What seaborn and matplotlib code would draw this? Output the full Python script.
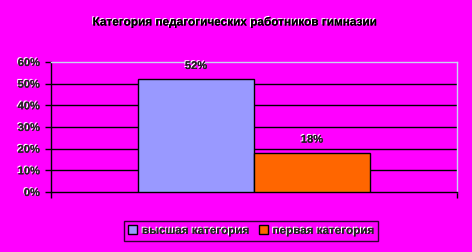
import matplotlib
matplotlib.use("Agg")
import matplotlib.pyplot as plt
import matplotlib.patheffects as pe
import seaborn as sns
import pandas as pd

title = "Категория педагогических работников гимназии"
series = ["высшая категория", "первая категория"]
values = [52, 18]
colors = ["#9999FF", "#FF6600"]
yticks = [0, 10, 20, 30, 40, 50, 60]

sns.set_theme(style="white")
plt.rcParams["font.family"] = ["Liberation Sans", "DejaVu Sans"]

bg = "#FF00FF"
light = "#C8D4F0"
shadow = [pe.withSimplePatchShadow(offset=(-0.8, 0.8), shadow_rgbFace="white", alpha=1.0), pe.Normal()]

df = pd.DataFrame({"cat": ["" for _ in series], "series": series, "value": values})

fig = plt.figure(figsize=(4.72, 2.52), dpi=100, facecolor=bg)
ax = fig.add_axes([51 / 472, 60 / 252, 406 / 472, 130 / 252])
ax.set_facecolor(bg)

sns.barplot(data=df, x="cat", y="value", hue="series", palette=colors,
            width=0.571, edgecolor="black", linewidth=1.0, saturation=1,
            ax=ax, zorder=3)

ax.set_xlim(-0.5, 0.5)
ax.set_ylim(0, 60)
ax.set_yticks(yticks)
ax.set_yticklabels([f"{t}%" for t in yticks], fontsize=8, fontweight="bold",
                   path_effects=shadow)
ax.set_xticks([-0.5, 0.5])
ax.set_xticklabels([])
ax.set_xlabel("")
ax.set_ylabel("")
ax.tick_params(axis="y", length=4, width=1, color="black", direction="out", left=True, pad=4)
ax.tick_params(axis="x", length=4, width=1, color="black", direction="out", bottom=True)

for t in yticks[1:-1]:
    ax.axhline(t, color="black", linewidth=1, zorder=1)

for s in ["left", "bottom"]:
    ax.spines[s].set_color("black")
    ax.spines[s].set_linewidth(1)
for s in ["top", "right"]:
    ax.spines[s].set_color(light)
    ax.spines[s].set_linewidth(1)

for container in ax.containers:
    ax.bar_label(container, labels=[f"{v:.0f}%" for v in container.datavalues],
                 padding=6, fontsize=8, fontweight="bold", color="#202020",
                 path_effects=shadow)

fig.text(0.5, 1 - 22 / 252, title, ha="center", va="center", fontsize=8.5,
         fontweight="bold", color="black", path_effects=shadow)

leg = ax.legend(loc="center", bbox_to_anchor=(251 / 472, 1 - 231 / 252),
                bbox_transform=fig.transFigure, ncol=2, frameon=True,
                fontsize=8.4, handlelength=0.8, handleheight=0.8,
                handletextpad=0.4, columnspacing=0.8, borderpad=0.35,
                fancybox=False)
frame = leg.get_frame()
frame.set_facecolor(bg)
frame.set_edgecolor("black")
frame.set_linewidth(1)
for txt in leg.get_texts():
    txt.set_fontweight("bold")
    txt.set_path_effects(shadow)
for h in leg.legend_handles:
    h.set_edgecolor("black")

fig.savefig("out.png", dpi=100, facecolor=bg)
